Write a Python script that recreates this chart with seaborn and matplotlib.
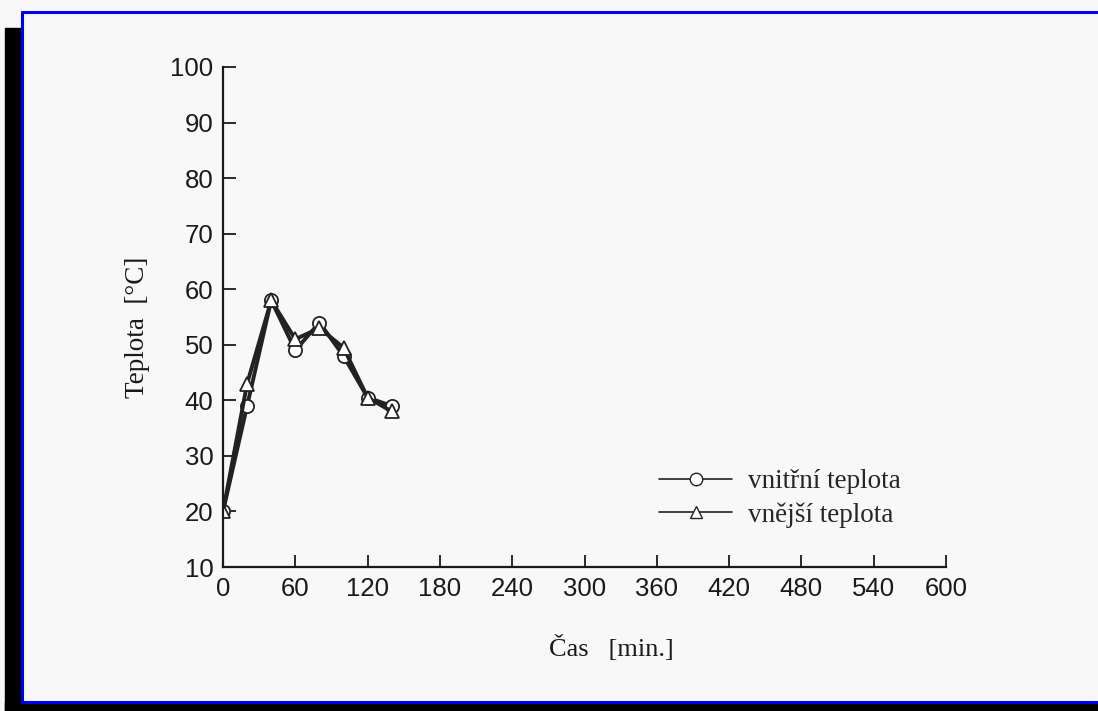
import pandas as pd
import numpy as np
import matplotlib.pyplot as plt
import seaborn as sns
from matplotlib.patches import Rectangle
from matplotlib.lines import Line2D

# data
cas = [0, 20, 40, 60, 80, 100, 120, 140]
vnitrni = [20, 39, 58, 49, 54, 48, 40.5, 39]
vnejsi = [20, 43, 58, 51, 53, 49.5, 40.5, 38]
serie = ["vnitřní teplota", "vnější teplota"]
x_ticks = [0, 60, 120, 180, 240, 300, 360, 420, 480, 540, 600]
y_ticks = [10, 20, 30, 40, 50, 60, 70, 80, 90, 100]

df = pd.DataFrame({
    "cas": cas * 2,
    "teplota": vnitrni + vnejsi,
    "serie": [serie[0]] * len(cas) + [serie[1]] * len(cas),
})

sns.set_style("ticks")
plt.rcParams['font.family'] = ['Liberation Sans', 'DejaVu Sans']

fig = plt.figure(figsize=(10.98, 7.11), dpi=100)
fig.patch.set_facecolor("#f8f8f8")
ax = fig.add_axes([0.2031, 0.2025, 0.6585, 0.7033])
ax.set_facecolor("none")

sns.lineplot(data=df, x="cas", y="teplota", hue="serie", style="serie",
             markers={serie[0]: "o", serie[1]: "^"}, dashes=False,
             palette={serie[0]: "#222222", serie[1]: "#222222"},
             linewidth=2.8, markersize=9.5, markerfacecolor="white",
             markeredgecolor="#222222", markeredgewidth=1.3, ax=ax, legend=False)

ax.set_xlim(0, 600)
ax.set_ylim(10, 100)
ax.set_xticks(x_ticks)
ax.set_yticks(y_ticks)
ax.tick_params(direction="in", length=9, width=1.3, labelsize=18.5, pad=7, colors="#1a1a1a")
ax.tick_params(axis="x", pad=7)
sns.despine(ax=ax)
for s in ["left", "bottom"]:
    ax.spines[s].set_linewidth(1.6)
    ax.spines[s].set_color("#1a1a1a")

ax.set_xlabel("")
ax.set_ylabel("")
fig.text(0.557, 0.088, "Čas   [min.]", family="Liberation Serif", fontsize=19,
         ha="center", va="center", rotation=0, color="#1a1a1a")
fig.text(0.125, 0.54, "Teplota  [°C]", family="Liberation Serif", fontsize=19.5,
         ha="center", va="center", rotation=90, color="#1a1a1a")

handles = [
    Line2D([], [], color="#222222", lw=1.2, marker="o", markersize=9,
           markerfacecolor="white", markeredgecolor="#222222"),
    Line2D([], [], color="#222222", lw=1.2, marker="^", markersize=9,
           markerfacecolor="white", markeredgecolor="#222222"),
]
leg = fig.legend(handles, serie, loc="center left", bbox_to_anchor=(0.578, 0.299),
                 frameon=False, handlelength=2.7, handletextpad=0.6, labelspacing=0.3,
                 prop={"family": "Liberation Serif", "size": 19.5})

# scan frame: black edges and blue border
fig.patches.append(Rectangle((5 / 1098, 0), 17 / 1098, 683 / 711, transform=fig.transFigure,
                             color="black", zorder=0))
fig.patches.append(Rectangle((5 / 1098, 0), 1092 / 1098, 9 / 711, transform=fig.transFigure,
                             color="black", zorder=0))
fig.add_artist(Line2D([22 / 1098, 22 / 1098], [9 / 711, 1 - 12 / 711], color="#0000ee",
                      lw=2.2, transform=fig.transFigure))
fig.add_artist(Line2D([22 / 1098, 1097 / 1098], [1 - 12 / 711, 1 - 12 / 711], color="#0000ee",
                      lw=2.2, transform=fig.transFigure))
fig.add_artist(Line2D([22 / 1098, 1097 / 1098], [9 / 711, 9 / 711], color="#0000ee",
                      lw=2.2, transform=fig.transFigure))

fig.savefig("out.png", dpi=100, facecolor=fig.get_facecolor())
